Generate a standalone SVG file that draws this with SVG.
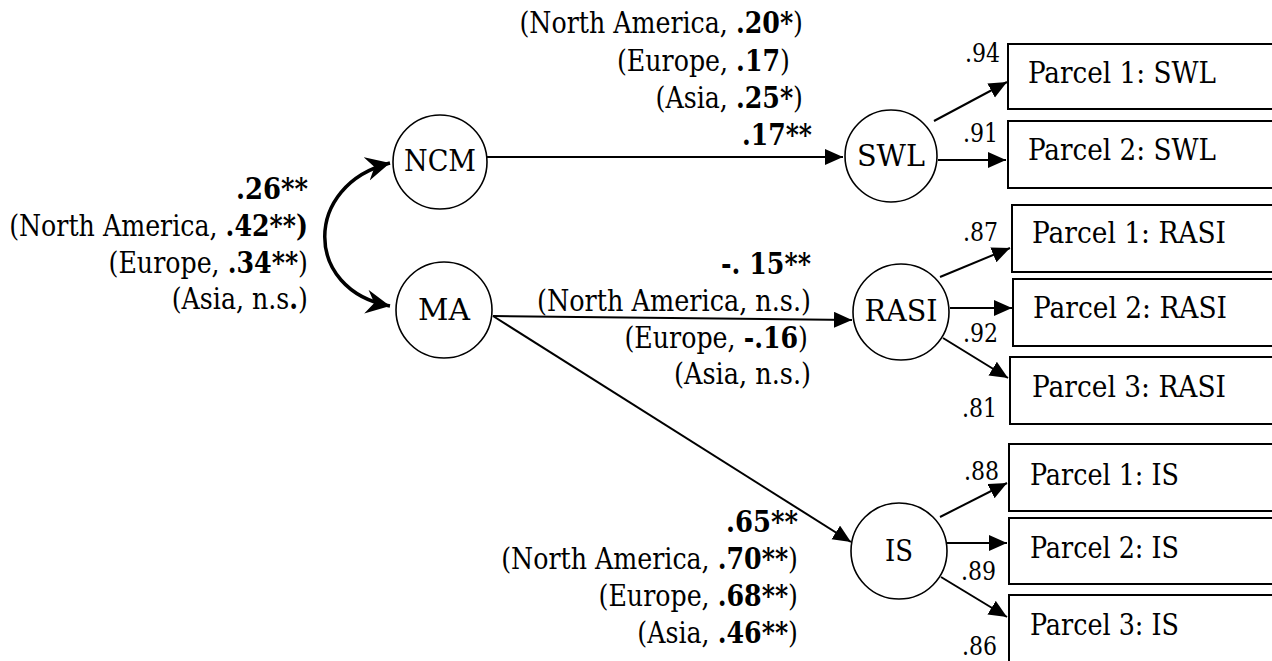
<svg xmlns="http://www.w3.org/2000/svg" width="1272" height="661" viewBox="0 0 1272 661">
<style>
text{font-family:'DejaVu Serif Condensed','DejaVu Serif',serif;font-stretch:condensed;fill:#000}
.t{font-size:29px}
.s{font-size:26px}
.m{text-anchor:middle}
.end{text-anchor:end}
.b{font-weight:bold}
.c{fill:#fff;stroke:#000;stroke-width:1.6}
.r{fill:#fff;stroke:#000;stroke-width:2}
.e{stroke:#000;stroke-width:2;fill:none;marker-end:url(#ah)}
.cv{stroke:#000;stroke-width:3.5;fill:none;marker-start:url(#st);marker-end:url(#st)}
</style>
<defs>
<marker id="ah" markerUnits="userSpaceOnUse" markerWidth="20" markerHeight="18" refX="18" refY="8" orient="auto">
<path d="M0,0 L18,8 L0,16 z" fill="#000"/>
</marker>
<marker id="st" markerUnits="userSpaceOnUse" markerWidth="26" markerHeight="26" refX="24" refY="12" orient="auto-start-reverse">
<path d="M0,0 L24,12 L0,24 L8,12 z" fill="#000"/>
</marker>
</defs>
<rect width="1272" height="661" fill="#fff"/>

<g id="connectors">
<path class="cv" d="M390,163 C303,185 303,290 390,306"/>
<line class="e" x1="487" y1="157" x2="843" y2="157"/>
<line class="e" x1="493" y1="316" x2="852" y2="320"/>
<line class="e" x1="493" y1="316" x2="851" y2="542"/>
<line class="e" x1="934" y1="121" x2="1007" y2="82"/>
<line class="e" x1="938" y1="160" x2="1006" y2="160"/>
<line class="e" x1="940" y1="277" x2="1010" y2="248"/>
<line class="e" x1="950" y1="308" x2="1012" y2="308"/>
<line class="e" x1="943" y1="338" x2="1008" y2="378"/>
<line class="e" x1="940" y1="517" x2="1007" y2="483"/>
<line class="e" x1="947" y1="543" x2="1007" y2="543"/>
<line class="e" x1="941" y1="577" x2="1007" y2="617"/>
</g>

<g id="node-NCM"><circle class="c" cx="440" cy="162" r="47"/><text class="t m" x="440" y="171" textLength="72" lengthAdjust="spacingAndGlyphs">NCM</text></g>
<g id="node-MA"><circle class="c" cx="444" cy="310" r="48"/><text class="t m" x="444" y="320" textLength="52" lengthAdjust="spacingAndGlyphs">MA</text></g>
<g id="node-SWL"><circle class="c" cx="891" cy="156" r="46"/><text class="t m" x="891" y="166" textLength="68" lengthAdjust="spacingAndGlyphs">SWL</text></g>
<g id="node-RASI"><circle class="c" cx="901" cy="312" r="48"/><text class="t m" x="901" y="321" textLength="73" lengthAdjust="spacingAndGlyphs">RASI</text></g>
<g id="node-IS"><circle class="c" cx="899" cy="551" r="48"/><text class="t m" x="899" y="561" textLength="28" lengthAdjust="spacingAndGlyphs">IS</text></g>

<g id="node-P1SWL"><rect class="r" x="1008" y="44" width="280" height="65"/><text class="t" x="1028" y="83" textLength="188" lengthAdjust="spacingAndGlyphs">Parcel 1: SWL</text></g>
<g id="node-P2SWL"><rect class="r" x="1008" y="121" width="280" height="67"/><text class="t" x="1028" y="160" textLength="188" lengthAdjust="spacingAndGlyphs">Parcel 2: SWL</text></g>
<g id="node-P1RASI"><rect class="r" x="1012" y="205" width="280" height="67"/><text class="t" x="1032" y="243" textLength="194" lengthAdjust="spacingAndGlyphs">Parcel 1: RASI</text></g>
<g id="node-P2RASI"><rect class="r" x="1013" y="279" width="280" height="67"/><text class="t" x="1033" y="318" textLength="194" lengthAdjust="spacingAndGlyphs">Parcel 2: RASI</text></g>
<g id="node-P3RASI"><rect class="r" x="1010" y="357" width="280" height="67"/><text class="t" x="1032" y="397" textLength="194" lengthAdjust="spacingAndGlyphs">Parcel 3: RASI</text></g>
<g id="node-P1IS"><rect class="r" x="1009" y="444" width="280" height="67"/><text class="t" x="1030" y="485" textLength="149" lengthAdjust="spacingAndGlyphs">Parcel 1: IS</text></g>
<g id="node-P2IS"><rect class="r" x="1009" y="518" width="280" height="66"/><text class="t" x="1030" y="558" textLength="149" lengthAdjust="spacingAndGlyphs">Parcel 2: IS</text></g>
<g id="node-P3IS"><rect class="r" x="1009" y="595" width="280" height="80"/><text class="t" x="1030" y="635" textLength="149" lengthAdjust="spacingAndGlyphs">Parcel 3: IS</text></g>

<g id="labels">
<text class="t end b" x="308" y="199" textLength="72" lengthAdjust="spacingAndGlyphs">.26**</text>
<text class="t end" transform="translate(308 236) scale(0.97 1)">(North America, <tspan class="b">.42**)</tspan></text>
<text class="t end" transform="translate(308 273) scale(0.97 1)">(Europe, <tspan class="b">.34**</tspan>)</text>
<text class="t end" transform="translate(308 309) scale(0.97 1)">(Asia, n.s<tspan class="b">.</tspan>)</text>

<text class="t end" transform="translate(803 33) scale(0.97 1)">(North America, <tspan class="b">.20*</tspan>)</text>
<text class="t end" transform="translate(790 71) scale(0.97 1)">(Europe, <tspan class="b">.17</tspan>)</text>
<text class="t end" transform="translate(803 108) scale(0.97 1)">(Asia, <tspan class="b">.25*</tspan>)</text>
<text class="t end b" x="812" y="145" textLength="70" lengthAdjust="spacingAndGlyphs">.17**</text>

<text class="t end b" x="811" y="274" textLength="90" lengthAdjust="spacingAndGlyphs">-. 15**</text>
<text class="t end" x="811" y="311" textLength="274" lengthAdjust="spacingAndGlyphs">(North America, n.s.)</text>
<text class="t end" transform="translate(808 348) scale(0.97 1)">(Europe, <tspan class="b">-.16</tspan>)</text>
<text class="t end" x="811" y="384" textLength="137" lengthAdjust="spacingAndGlyphs">(Asia, n.s.)</text>

<text class="t end b" x="798" y="532" textLength="72" lengthAdjust="spacingAndGlyphs">.65**</text>
<text class="t end" transform="translate(798 569) scale(0.97 1)">(North America, <tspan class="b">.70**</tspan>)</text>
<text class="t end" transform="translate(798 606) scale(0.97 1)">(Europe, <tspan class="b">.68**</tspan>)</text>
<text class="t end" transform="translate(798 643) scale(0.97 1)">(Asia, <tspan class="b">.46**</tspan>)</text>

<text class="s end" x="1000" y="62" textLength="35" lengthAdjust="spacingAndGlyphs">.94</text>
<text class="s end" x="998" y="142" textLength="35" lengthAdjust="spacingAndGlyphs">.91</text>
<text class="s end" x="998" y="241" textLength="35" lengthAdjust="spacingAndGlyphs">.87</text>
<text class="s end" x="998" y="342" textLength="35" lengthAdjust="spacingAndGlyphs">.92</text>
<text class="s end" x="997" y="417" textLength="35" lengthAdjust="spacingAndGlyphs">.81</text>
<text class="s end" x="999" y="480" textLength="35" lengthAdjust="spacingAndGlyphs">.88</text>
<text class="s end" x="996" y="580" textLength="35" lengthAdjust="spacingAndGlyphs">.89</text>
<text class="s end" x="997" y="655" textLength="35" lengthAdjust="spacingAndGlyphs">.86</text>
</g>
</svg>
